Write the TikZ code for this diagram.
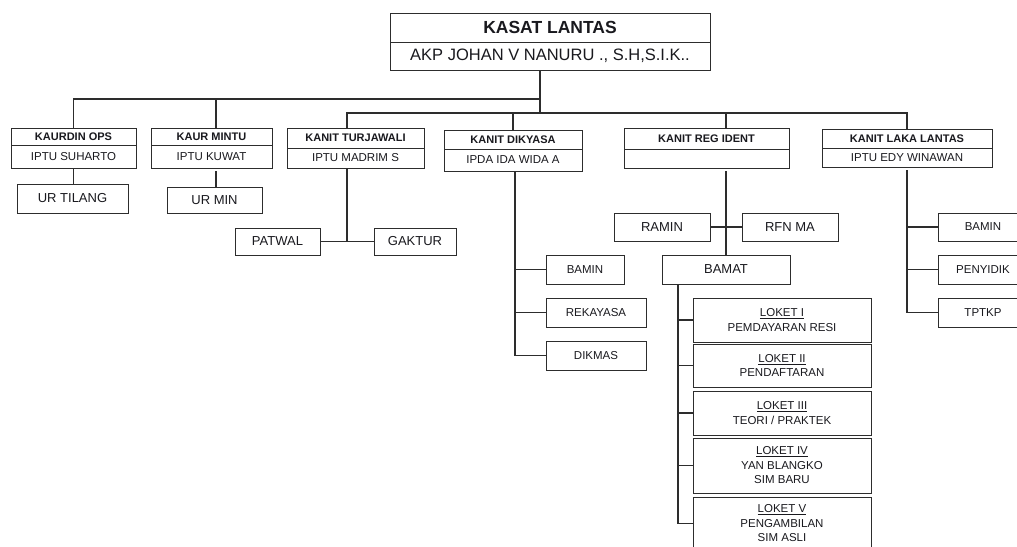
\documentclass[tikz,border=0pt]{standalone}
\usepackage{fontspec}
\setmainfont{Liberation Sans}
\usetikzlibrary{positioning}
\definecolor{linegray}{RGB}{45,45,45}
\definecolor{boxgray}{RGB}{45,45,45}
\definecolor{textdark}{RGB}{25,25,30}

\begin{document}
\begin{tikzpicture}[
    x=1pt, y=-1pt,
    node distance=0pt,
    cell/.style={rectangle, draw=boxgray, line width=1pt, inner sep=0pt, outer sep=0pt, align=center, text=textdark},
    hd/.style={cell, font=\fontsize{11}{13}\selectfont\bfseries, text depth=0pt},
    nm/.style={cell, font=\fontsize{11.5}{13}\selectfont},
    leaf/.style={cell, font=\fontsize{13}{15}\selectfont},
    subbox/.style={cell, font=\fontsize{11.5}{14}\selectfont},
    loket/.style={cell, minimum width=178, font=\fontsize{11.5}{14.5}\selectfont},
    conn/.style={draw=linegray, line width=1.1pt}
]
\fill[white] (0,0) rectangle (1017,546);
\useasboundingbox (0,0) rectangle (1017,546);

% ============ Kasat ============
\node[hd, minimum width=320, minimum height=29, font=\fontsize{17.5}{19}\selectfont\bfseries] (kasat) at (550,27.5) {KASAT LANTAS};
\node[nm, minimum width=320, minimum height=28, font=\fontsize{16.5}{19}\selectfont, below=of kasat] (kasat-nm) {AKP JOHAN V NANURU ., S.H,S.I.K..};

\coordinate (bus-up) at (540,99);
\coordinate (bus-lo) at (540,113);

% ============ Kaurdin / Kaur Mintu ============
\node[hd, minimum width=125, minimum height=17] (kaurdin) at (73.5,136.5) {KAURDIN OPS};
\node[nm, minimum width=125, minimum height=23, below=of kaurdin] (kaurdin-nm) {IPTU SUHARTO};
\node[leaf, minimum width=111, minimum height=29] (urtilang) at (72.5,198.5) {UR TILANG};

\node[hd, minimum width=121, minimum height=17] (mintu) at (211.5,136.5) {KAUR MINTU};
\node[nm, minimum width=121, minimum height=23, below=of mintu] (mintu-nm) {IPTU KUWAT};
\node[leaf, minimum width=95, minimum height=26] (urmin) at (214.5,200) {UR MIN};

% ============ Turjawali ============
\node[hd, minimum width=137, minimum height=20] (turj) at (355.5,138) {KANIT TURJAWALI};
\node[nm, minimum width=137, minimum height=20, below=of turj] (turj-nm) {IPTU MADRIM S};
\node[leaf, minimum width=85, minimum height=27] (patwal) at (277.5,241.5) {PATWAL};
\node[leaf, minimum width=82, minimum height=27] (gaktur) at (415,241.5) {GAKTUR};

% ============ Dikyasa ============
\node[hd, minimum width=138, minimum height=19] (dikyasa) at (513,139.5) {KANIT DIKYASA};
\node[nm, minimum width=138, minimum height=22, below=of dikyasa] (dikyasa-nm) {IPDA IDA WIDA A};
\node[subbox, minimum width=78, minimum height=29] (dik-bamin) at (585,269.5) {BAMIN};
\node[subbox, minimum width=100, minimum height=29] (rekayasa) at (596,312.5) {REKAYASA};
\node[subbox, minimum width=100, minimum height=29] (dikmas) at (596,355.5) {DIKMAS};

% ============ Reg Ident ============
\node[hd, minimum width=165, minimum height=21] (regident) at (706.5,138.5) {KANIT REG IDENT};
\node[nm, minimum width=165, minimum height=19, below=of regident] (regident-nm) {};
\node[leaf, minimum width=96, minimum height=28] (ramin) at (662,227) {RAMIN};
\node[leaf, minimum width=96, minimum height=28] (rfnma) at (790,227) {RFN MA};
\node[leaf, minimum width=128, minimum height=29] (bamat) at (726,269.5) {BAMAT};

\node[loket, minimum height=44] (loket1) at (782,320) {\underline{LOKET I}\\PEMDAYARAN RESI};
\node[loket, minimum height=43] (loket2) at (782,365.5) {\underline{LOKET II}\\PENDAFTARAN};
\node[loket, minimum height=44] (loket3) at (782,413) {\underline{LOKET III}\\TEORI / PRAKTEK};
\node[loket, minimum height=55] (loket4) at (782,465.5) {\underline{LOKET IV}\\YAN BLANGKO\\SIM BARU};
\node[loket, minimum height=53] (loket5) at (782,523.5) {\underline{LOKET V}\\PENGAMBILAN\\SIM ASLI};

% ============ Laka Lantas ============
\node[hd, minimum width=170, minimum height=19] (laka) at (907,138.5) {KANIT LAKA LANTAS};
\node[nm, minimum width=170, minimum height=19, below=of laka] (laka-nm) {IPTU EDY WINAWAN};
\node[subbox, minimum width=90, minimum height=28] (laka-bamin) at (983,227) {BAMIN};
\node[subbox, minimum width=90, minimum height=29] (penyidik) at (983,269.5) {PENYIDIK};
\node[subbox, minimum width=90, minimum height=29] (tptkp) at (983,312.5) {TPTKP};

% ============ connectors ============
\draw[conn] (kasat-nm.south -| bus-up) -- (bus-lo);
\draw[conn] (bus-up) -| (kaurdin.north);
\draw[conn] (bus-up) -| ([xshift=4.5pt]mintu.north);
\draw[conn] (bus-lo) -| ([xshift=-8.5pt]turj.north);
\draw[conn] (bus-lo) -| (dikyasa.north);
\draw[conn] (bus-lo) -| ([xshift=19.5pt]regident.north);
\draw[conn] (bus-lo) -| (laka.north);

\draw[conn] (kaurdin-nm.south) -- (kaurdin-nm.south |- urtilang.north);
\draw[conn, shorten >=3pt] ([xshift=1.5pt]urmin.north) -- ([xshift=1.5pt]urmin.north |- mintu-nm.south);

\draw[conn] ([xshift=-8.5pt]turj-nm.south) -- ([xshift=-8.5pt]turj-nm.south |- patwal.east);
\draw[conn] (patwal.east) -- (gaktur.west);

\draw[conn] ([xshift=2pt]dikyasa-nm.south) |- (dikmas.west);
\draw[conn] ([xshift=2pt]dikyasa-nm.south |- dik-bamin.west) -- (dik-bamin.west);
\draw[conn] ([xshift=2pt]dikyasa-nm.south |- rekayasa.west) -- (rekayasa.west);

\draw[conn, shorten <=3pt] (regident-nm.south -| bamat.north) -- (bamat.north);
\draw[conn] (ramin.east) -- (rfnma.west);
\draw[conn] ([xshift=-48pt]bamat.south) |- (loket5.west);
\foreach \k in {1,...,4}
    \draw[conn] ([xshift=-48pt]bamat.south |- loket\k.west) -- (loket\k.west);

\draw[conn, shorten <=3pt] (laka-nm.south) |- (tptkp.west);
\draw[conn] (laka-nm.south |- laka-bamin.west) -- (laka-bamin.west);
\draw[conn] (laka-nm.south |- penyidik.west) -- (penyidik.west);

\end{tikzpicture}
\end{document}
